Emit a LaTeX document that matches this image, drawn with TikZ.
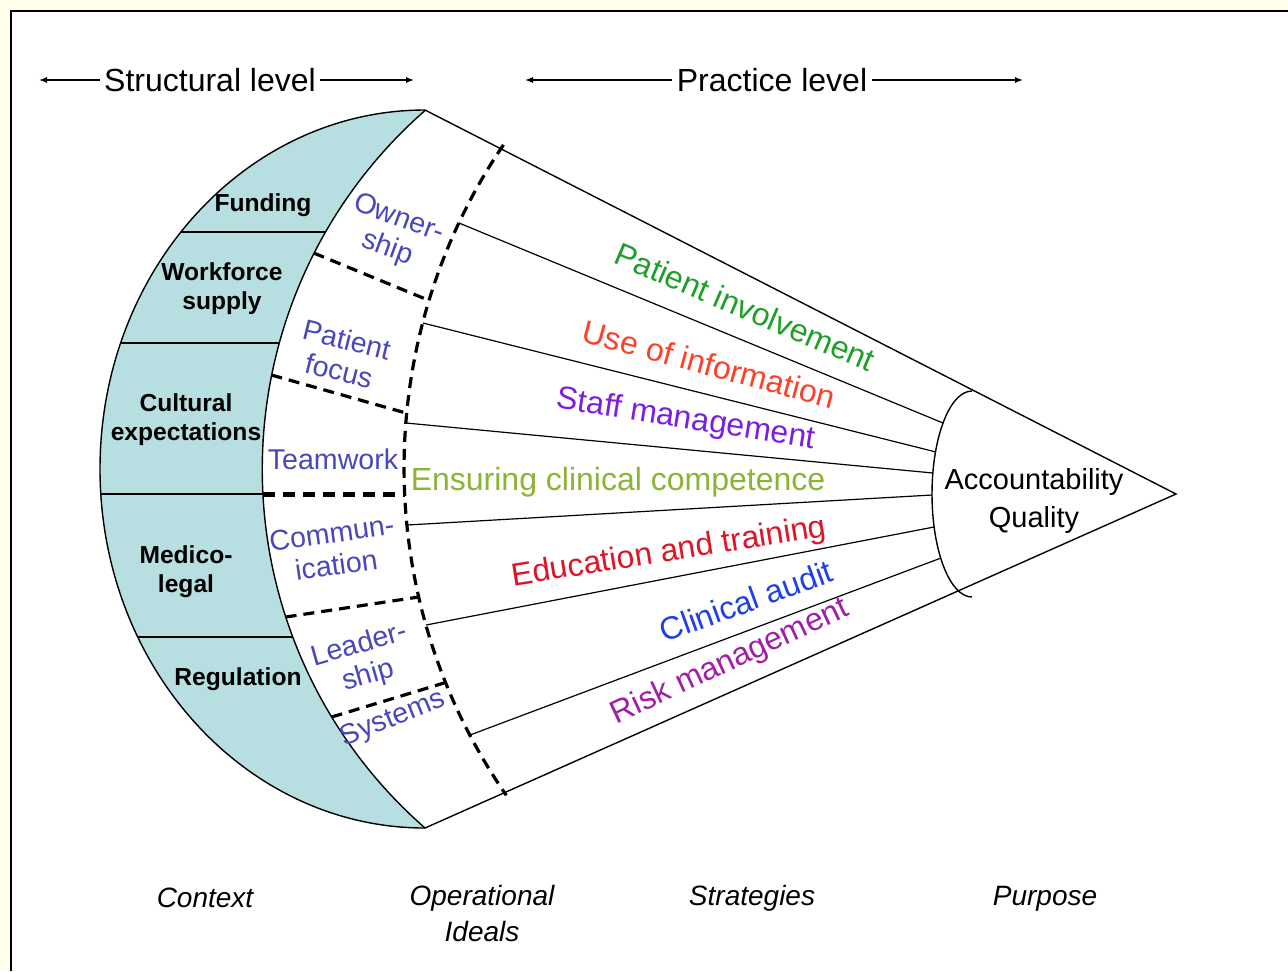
\documentclass[tikz,border=0pt]{standalone}
\usepackage{fontspec}
\setmainfont{Liberation Sans}
\usepackage{tikz}
\usetikzlibrary{arrows.meta}

\definecolor{paper}{RGB}{255,255,236}
\definecolor{band}{RGB}{183,222,224}
\definecolor{ideal}{RGB}{72,72,188}
\definecolor{involve}{RGB}{30,160,40}
\definecolor{inform}{RGB}{255,64,40}
\definecolor{staff}{RGB}{122,30,228}
\definecolor{compete}{RGB}{140,180,52}
\definecolor{train}{RGB}{222,20,40}
\definecolor{audit}{RGB}{30,64,230}
\definecolor{risk}{RGB}{160,30,170}

\begin{document}
\begin{tikzpicture}[x=0.5pt, y=-0.5pt]
		\tikzstyle{Context}	= [font=\fontsize{12.3}{14.5}\selectfont\bfseries, align=center]
		\tikzstyle{Ideal}	= [font=\fontsize{14.3}{16}\selectfont, text=ideal, align=center]
		\tikzstyle{Strategy}	= [font=\fontsize{16}{19}\selectfont]
		\tikzstyle{Purpose}	= [font=\fontsize{14.5}{19}\selectfont, align=center]
		\tikzstyle{Heading}	= [font=\fontsize{14}{18}\selectfont\itshape, align=center]
		\tikzstyle{Level}	= [font=\fontsize{16}{19}\selectfont, inner sep=2pt]
		\tikzstyle{Edge}	= [line width=0.7pt]
		\tikzstyle{Spoke}	= [line width=0.6pt]
		\tikzstyle{Split}	= [line width=1.6pt, dash pattern=on 5.5pt off 3.5pt]
		\tikzstyle{Span}	= [-{Latex[length=4pt, width=3pt]}, line width=0.6pt]

		\useasboundingbox (0, 0) rectangle (1288, 971);
		\fill[paper] (0, 0) rectangle (1288, 971);
		\fill[white] (11, 11) rectangle (1288, 971);
		\draw [line width=1pt] (11, 971) -- (11, 11) -- (1288, 11);

		\coordinate (top) at (425, 110);
		\coordinate (bot) at (425, 828);
		\coordinate (apex) at (1176, 494);

		% context band
		\fill[band] (top) arc[start angle=270, end angle=90, x radius=325, y radius=359]
			arc[start angle=131.2, end angle=228.8, radius=476.8] -- cycle;
		\draw [Edge] (top) arc[start angle=270, end angle=90, x radius=325, y radius=359];
		\draw [Edge] (bot) arc[start angle=131.2, end angle=228.8, radius=476.8];
		\draw [Edge] (top) -- (apex) -- (bot);
		\foreach \y/\xa/\xb in {232/180.9/325.1, 343/120.7/279.0, 494/100.8/262.7, 637/137.8/292.6}
			\draw [Edge] (\xa, \y) -- (\xb, \y);

		% operational ideals
		\draw [Split] (979, 468) ++(214.2:575) arc[start angle=214.2, end angle=145.3, radius=575];
		\draw [Split] (313.7, 253) -- (428, 300);
		\draw [Split] (271.4, 375) -- (406, 413);
		\draw [Split, line width=2.5pt, dash pattern=on 6pt off 4pt] (262.7, 494) -- (404.6, 494);
		\draw [Split] (285.6, 617) -- (418.7, 597);
		\draw [Split] (331.6, 717) -- (444, 683);

		% purpose
		\draw [Edge] (972, 391) arc[start angle=270, end angle=90, x radius=40, y radius=103];

		\coordinate (i1) at (459, 223);	\coordinate (p1) at (943, 423);
		\coordinate (i2) at (423, 323);	\coordinate (p2) at (936, 452);
		\coordinate (i3) at (406, 423);	\coordinate (p3) at (933, 473);
		\coordinate (i4) at (407, 525);	\coordinate (p4) at (932, 495);
		\coordinate (i5) at (426, 625);	\coordinate (p5) at (934, 527);
		\coordinate (i6) at (470, 735);	\coordinate (p6) at (941, 558);
		\foreach \n in {1,...,6}
			\draw [-] (i\n) to (p\n) [Spoke];

		\node (c1) at (263, 205) [Context] {Funding};
		\node (c2) at (222, 289) [Context] {Workforce\\supply};
		\node (c3) at (186, 420) [Context] {Cultural\\expectations};
		\node (c4) at (186, 572) [Context] {Medico-\\legal};
		\node (c5) at (238, 679) [Context] {Regulation};

		\node (o1) at (393, 234) [Ideal, rotate=-20] {Owner-\\ship};
		\node (o2) at (343, 355) [Ideal, rotate=-14] {Patient\\focus};
		\node (o3) at (333, 459) [Ideal] {Teamwork};
		\node (o4) at (334, 549) [Ideal, rotate=8] {Commun-\\ication};
		\node (o5) at (364, 661) [Ideal, rotate=16] {Leader-\\ship};
		\node (o6) at (393, 719) [Ideal, rotate=22] {Systems};

		\node (s1) at (745, 307) [Strategy, rotate=-23, text=involve] {Patient involvement};
		\node (s2) at (709, 364) [Strategy, rotate=-15, text=inform] {Use of information};
		\node (s3) at (686, 420) [Strategy, rotate=-9, text=staff] {Staff management};
		\node (s4) at (618, 482) [Strategy, text=compete] {Ensuring clinical competence};
		\node (s5) at (669, 553) [Strategy, rotate=9, text=train] {Education and training};
		\node (s6) at (746, 601) [Strategy, rotate=20, text=audit] {Clinical audit};
		\node (s7) at (730, 662) [Strategy, rotate=25, text=risk] {Risk management};

		\node (aq) at (1034, 501) [Purpose] {Accountability\\Quality};

		\node (h1) at (205, 898) [Heading] {Context};
		\node (h2) at (482, 913) [Heading] {Operational\\Ideals};
		\node (h3) at (752, 898) [Heading] {Strategies};
		\node (h4) at (1045, 899) [Heading] {Purpose};

		\node (sl) at (210, 80) [Level] {Structural level};
		\node (pl) at (772, 80) [Level] {Practice level};
		\coordinate (sl1) at (39, 80);
		\coordinate (sl2) at (414, 80);
		\coordinate (pl1) at (525, 80);
		\coordinate (pl2) at (1023, 80);
		\draw [Span] (sl) -- (sl1);
		\draw [Span] (sl) -- (sl2);
		\draw [Span] (pl) -- (pl1);
		\draw [Span] (pl) -- (pl2);
\end{tikzpicture}
\end{document}
